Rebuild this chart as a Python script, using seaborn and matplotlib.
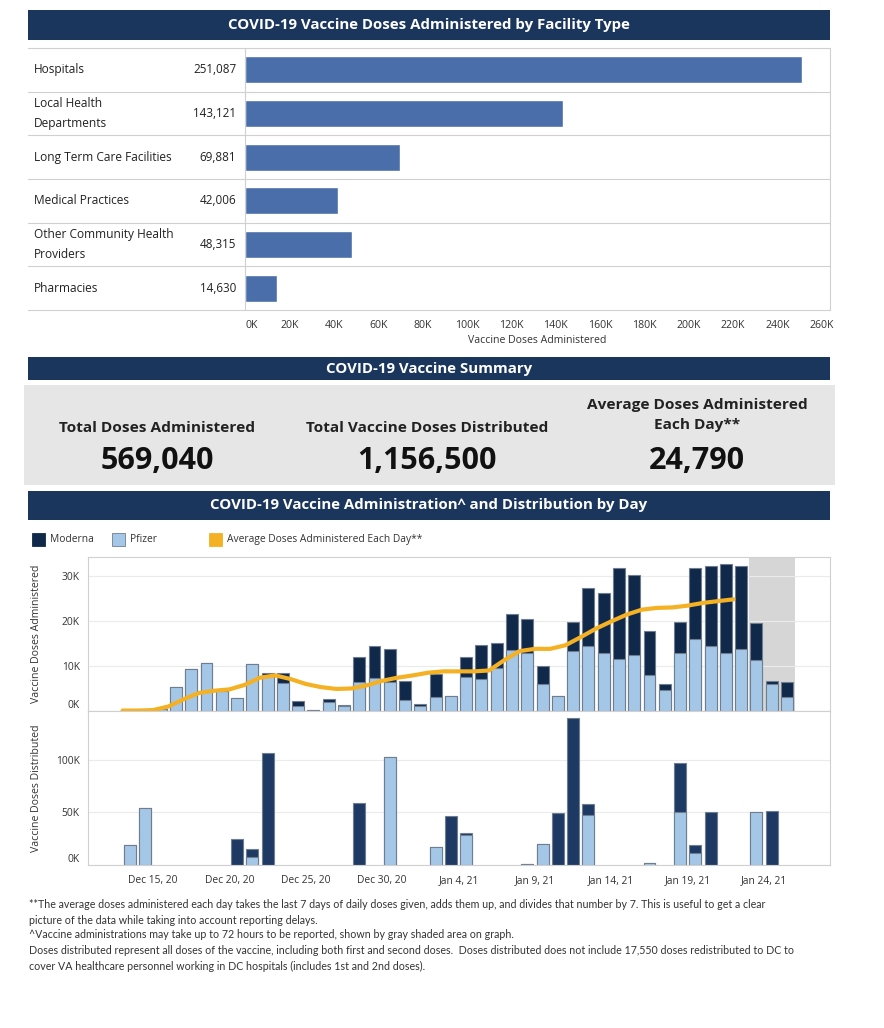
import numpy as np
import pandas as pd
import matplotlib
matplotlib.use("Agg")
import matplotlib.pyplot as plt
import matplotlib.transforms as mtrans
from matplotlib.patches import Rectangle
import seaborn as sns

#%%% data
facility = ["Hospitals", "Local Health\nDepartments", "Long Term Care Facilities",
            "Medical Practices", "Other Community Health\nProviders", "Pharmacies"]
facility_doses = [251087, 143121, 69881, 42006, 48315, 14630]

kpi_labels = ["Total Doses Administered", "Total Vaccine Doses Distributed",
              "Average Doses Administered\nEach Day**"]
kpi_values = [569040, 1156500, 24790]

# days counted from Dec 15, 2020
admin_days = list(range(0, 42))
pfizer_admin = [0.5, 5.4, 9.3, 10.6, 4.5, 2.8, 10.4, 8.1, 6.3, 1.0, 0.3, 2.0, 1.0, 6.5,
                7.4, 6.5, 2.4, 1.0, 3.0, 3.4, 7.5, 7.1, 9.5, 13.5, 12.8, 5.9, 3.4, 13.3,
                14.4, 12.8, 11.5, 12.4, 8.0, 4.7, 12.8, 16.1, 14.4, 12.8, 13.7, 11.3, 6.1, 3.0]
moderna_admin = [0.0, 0.0, 0.0, 0.0, 0.0, 0.0, 0.0, 0.3, 2.1, 1.2, 0.0, 0.6, 0.3, 5.6,
                 7.0, 7.2, 4.3, 0.5, 5.2, 0.0, 4.4, 7.5, 5.7, 8.1, 7.6, 4.2, 0.0, 6.5,
                 12.9, 13.3, 20.3, 17.7, 9.8, 1.2, 7.0, 15.7, 17.9, 19.8, 18.6, 8.3, 0.6, 3.4]

avg_days = list(range(-2, 39))
avg_admin = [0.1, 0.1, 0.2, 1.0, 2.6, 4.0, 4.5, 4.8, 5.8, 7.4, 7.9, 7.1, 6.0, 5.3, 4.9,
             5.0, 5.7, 6.7, 7.4, 7.9, 8.5, 8.8, 8.8, 8.8, 9.0, 11.3, 13.3, 13.8, 13.8,
             14.6, 16.4, 18.3, 19.9, 21.4, 22.5, 22.9, 23.0, 23.4, 24.0, 24.4, 24.8]

dist_days = [-2, -1, 5, 6, 7, 13, 15, 18, 19, 20, 24, 25, 26, 27, 28, 32, 34, 35, 36, 39, 40]
pfizer_dist = [19.0, 53.8, 0, 7.3, 0, 0, 102.2, 16.8, 0, 28.5, 1.0, 19.9, 0, 0, 47.4,
               2.0, 50.6, 11.4, 0, 50.0, 0]
moderna_dist = [0, 0, 24.3, 7.6, 106.0, 58.5, 0, 0, 46.5, 1.9, 0, 0, 49.0, 139.2, 10.2,
                0, 45.9, 7.6, 50.0, 0, 51.0]

lag_days = [39, 40, 41]   # not fully reported yet (gray band)
start = pd.Timestamp("2020-12-15")

footnotes = [
    "**The average doses administered each day takes the last 7 days of daily doses given, adds them up, and divides that number by 7. This is useful to get a clear",
    "picture of the data while taking into account reporting delays.",
    "^Vaccine administrations may take up to 72 hours to be reported, shown by gray shaded area on graph.",
    "Doses distributed represent all doses of the vaccine, including both first and second doses.  Doses distributed does not include 17,550 doses redistributed to DC to",
    "cover VA healthcare personnel working in DC hospitals (includes 1st and 2nd doses).",
]

#%%% style
sns.set_theme(style="white")
plt.rcParams['font.family'] = ['Open Sans', 'DejaVu Sans']

NAVY = "#1b365d"
BAR = "#4a6ea9"
MOD_TOP = "#10284a"
MOD_BOT = "#1e3a64"
PFZ = "#a5c7e7"
EDGE = "#6f7e8e"
ORANGE = "#f4b124"
LINE = "#d0d0d0"
TXT = "#333333"

W, H = 884, 1028
fig = plt.figure(figsize=(W / 100, H / 100), dpi=100)
bg = fig.add_axes([0, 0, 1, 1])
bg.set_xlim(0, W)
bg.set_ylim(H, 0)
bg.axis('off')


def box(x0, y0, x1, y1):
    return [x0 / W, 1 - y1 / H, (x1 - x0) / W, (y1 - y0) / H]


def banner(y0, y1, title):
    bg.add_patch(Rectangle((28, y0), 802, y1 - y0, color=NAVY, lw=0))
    bg.text(429, (y0 + y1) / 2, title, color='white', fontsize=10.8,
            fontweight='bold', ha='center', va='center')


def kfmt(v):
    return f"{int(round(v / 1000))}K"


#%%% facility chart
banner(10, 40, "COVID-19 Vaccine Doses Administered by Facility Type")
ax1 = fig.add_axes(box(245, 48, 830, 310))
ax1.patch.set_alpha(0)
fac = pd.DataFrame({'facility': facility, 'doses': facility_doses})
sns.barplot(data=fac, y='facility', x='doses', orient='h', color=BAR,
            saturation=1, width=0.62, ax=ax1)
ax1.set_xlim(0, 263700)
ax1.set_ylim(len(facility) - 0.5, -0.5)
ticks = list(range(0, 260001, 20000))
ax1.set_xticks(ticks)
ax1.set_xticklabels([kfmt(t) for t in ticks])
ax1.get_xticklabels()[0].set_ha('left')
ax1.tick_params(axis='x', length=0, pad=7, labelsize=7.6, labelcolor=TXT)
ax1.set_yticks([])
ax1.set_ylabel('')
ax1.set_xlabel("Vaccine Doses Administered", fontsize=7.6, color=TXT, labelpad=3)
for s in ['top', 'bottom']:
    ax1.spines[s].set_visible(False)
for s in ['left', 'right']:
    ax1.spines[s].set_color(LINE)
    ax1.spines[s].set_linewidth(0.8)
mix = mtrans.blended_transform_factory(bg.transData, ax1.transData)
for i in range(len(facility) + 1):
    ax1.plot([28, 830], [i - 0.5, i - 0.5], color=LINE, lw=0.8,
             transform=mix, clip_on=False)
for i, (name, val) in enumerate(zip(facility, facility_doses)):
    ax1.text(34, i, name, transform=mix, ha='left', va='center',
             fontsize=8.6, color='#222222', linespacing=1.75)
    ax1.text(236, i, f"{val:,}", transform=mix, ha='right', va='center',
             fontsize=8.4, color='#222222')

#%%% summary
banner(357, 380, "COVID-19 Vaccine Summary")
bg.add_patch(Rectangle((24, 385), 811, 100, color="#e6e6e6", lw=0))
for cx, lab, val in zip([157, 427, 697], kpi_labels, kpi_values):
    ly = 415 if "\n" in lab else 428
    bg.text(cx, ly, lab, ha='center', va='center', fontsize=11.1,
            fontweight='bold', color='#222222', linespacing=1.5)
    bg.text(cx, 461, f"{val:,}", ha='center', va='center', fontsize=22,
            fontweight='bold', color='#111111')

#%%% daily chart
banner(491, 520, "COVID-19 Vaccine Administration^ and Distribution by Day")

legend_items = [("Moderna", MOD_TOP, 32, 50), ("Pfizer", PFZ, 112, 130),
                ("Average Doses Administered Each Day**", ORANGE, 209, 227)]
for name, col, x0, tx in legend_items:
    bg.add_patch(Rectangle((x0, 533), 13, 13, facecolor=col,
                           edgecolor=EDGE if col == PFZ else col, lw=0.6))
    bg.text(tx, 539.5, name, ha='left', va='center', fontsize=7.4, color=TXT)

adm = pd.DataFrame({'day': admin_days,
                    'pfizer': np.array(pfizer_admin) * 1000,
                    'moderna': np.array(moderna_admin) * 1000})
adm['pos'] = adm['day'] + 0.5
adm['total'] = adm['pfizer'] + adm['moderna']

dist = pd.DataFrame({'day': dist_days,
                     'pfizer': np.array(pfizer_dist) * 1000,
                     'moderna': np.array(moderna_dist) * 1000})
dist['pos'] = dist['day'] + 0.5
dist['total'] = dist['pfizer'] + dist['moderna']

ax2 = fig.add_axes(box(88, 557, 830, 711))
ax3 = fig.add_axes(box(88, 711, 830, 865))

for ax, df, dark in [(ax2, adm, MOD_TOP), (ax3, dist, MOD_BOT)]:
    sns.barplot(data=df, x='pos', y='total', native_scale=True, color=dark,
                saturation=1, width=0.78, edgecolor=EDGE, linewidth=0.8,
                errorbar=None, ax=ax)
    sns.barplot(data=df[df['pfizer'] > 0], x='pos', y='pfizer', native_scale=True,
                color=PFZ, saturation=1, width=0.78, edgecolor=EDGE, linewidth=0.8,
                errorbar=None, ax=ax)
    ax.set_xlim(-4.26, 44.32)
    ax.set_xlabel('')
    ax.set_axisbelow(True)
    ax.grid(axis='y', color='#ebebeb', lw=0.8)
    ax.grid(axis='x', visible=False)
    ax.tick_params(axis='y', length=0, pad=6, labelsize=7.4, labelcolor=TXT)
    for s in ax.spines.values():
        s.set_color(LINE)
        s.set_linewidth(0.8)
    ax.yaxis.set_label_coords(-0.062, 0.5)

sns.lineplot(x=np.array(avg_days), y=np.array(avg_admin) * 1000, color=ORANGE,
             lw=3, ax=ax2, solid_capstyle='round')
ax2.axvspan(min(lag_days), max(lag_days) + 1, color='#d6d6d6', lw=0, zorder=0.2)

ax2.set_ylim(0, 34200)
ax2.set_yticks([0, 10000, 20000, 30000])
ax2.set_yticklabels([kfmt(t) for t in [0, 10000, 20000, 30000]])
ax2.set_xticks([])
ax2.set_ylabel("Vaccine Doses Administered", fontsize=7.6, color=TXT)

ax3.set_ylim(0, 146000)
ax3.set_yticks([0, 50000, 100000])
ax3.set_yticklabels([kfmt(t) for t in [0, 50000, 100000]])
ax3.set_ylabel("Vaccine Doses Distributed", fontsize=7.6, color=TXT)
xt = list(range(0, 41, 5))
ax3.set_xticks(xt)
ax3.set_xticklabels([f"{d:%b} {d.day}, {d:%y}" for d in
                     [start + pd.Timedelta(days=t) for t in xt]])
ax3.tick_params(axis='x', length=0, pad=7, labelsize=7.4, labelcolor=TXT)

# the zero label sits just above the baseline
for ax in [ax2, ax3]:
    ax.get_yticklabels()[0].set_va('bottom')

#%%% footnotes
for y, line in zip([904, 920, 935, 951, 966], footnotes):
    bg.text(29, y, line, ha='left', va='center', fontsize=7.7,
            color=TXT, family=['Lato', 'DejaVu Sans'])

fig.savefig("out.png", dpi=100)
